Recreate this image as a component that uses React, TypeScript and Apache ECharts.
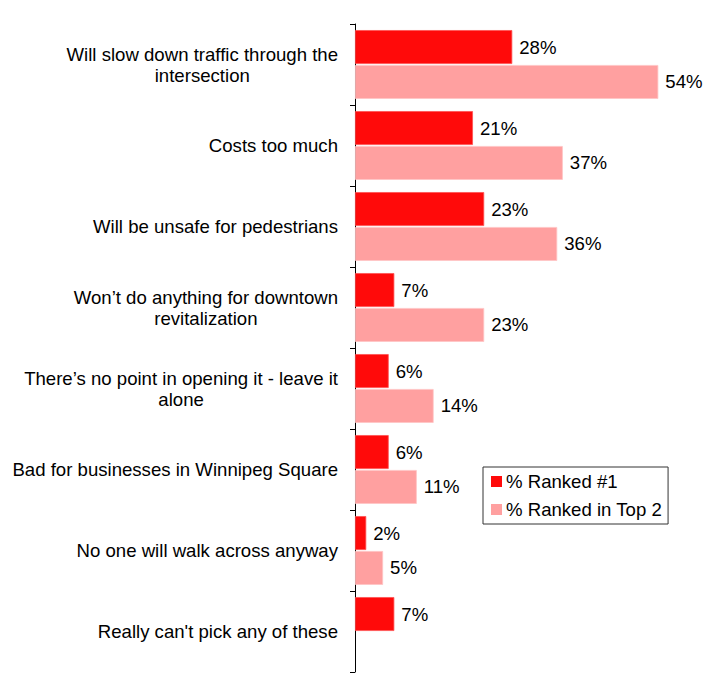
import React, { useEffect, useRef } from 'react';
import * as echarts from 'echarts';

const categories = [
  'Will slow down traffic through the\nintersection',
  'Costs too much',
  'Will be unsafe for pedestrians',
  'Won’t do anything for downtown\nrevitalization',
  'There’s no point in opening it - leave it\nalone',
  'Bad for businesses in Winnipeg Square',
  'No one will walk across anyway',
  "Really can't pick any of these",
];

const rankedFirst = [28, 21, 23, 7, 6, 6, 2, 7];
const rankedTopTwo: (number | null)[] = [54, 37, 36, 23, 14, 11, 5, null];

const seriesNames = ['% Ranked #1', '% Ranked in Top 2'];

const FONT = '"Liberation Sans", Arial, sans-serif';
const FONT_SIZE = 18.6;

const App: React.FC = () => {
  const chartRef = useRef<HTMLDivElement>(null);

  useEffect(() => {
    if (!chartRef.current) return;
    document.body.style.margin = '0';

    const chart = echarts.init(chartRef.current, undefined, { renderer: 'svg' });

    const valueLabel = {
      show: true,
      position: 'right' as const,
      distance: 7,
      color: '#000',
      fontFamily: FONT,
      fontSize: FONT_SIZE,
      formatter: (p: any) => (p.value == null ? '' : `${p.value}%`),
    };

    const option: echarts.EChartsOption = {
      animation: false,
      textStyle: { fontFamily: FONT },
      grid: { left: 355, top: 24, right: 26, bottom: 23, containLabel: false },
      legend: {
        orient: 'vertical',
        left: 483,
        top: 467,
        padding: [5, 6, 5, 8],
        itemGap: 9,
        itemWidth: 11,
        itemHeight: 11,
        icon: 'rect',
        borderColor: '#333',
        borderWidth: 1,
        borderRadius: 0,
        itemStyle: { borderWidth: 0 },
        textStyle: { color: '#000', fontSize: FONT_SIZE, fontFamily: FONT, lineHeight: 19, padding: [0, 0, 0, -1] },
        data: seriesNames,
      },
      xAxis: {
        type: 'value',
        min: 0,
        max: 60,
        show: false,
      },
      yAxis: {
        type: 'category',
        inverse: true,
        data: categories,
        axisLine: { show: true, lineStyle: { color: '#000', width: 1 } },
        axisTick: { show: true, length: 5, lineStyle: { color: '#000' } },
        axisLabel: {
          margin: 17,
          color: '#000',
          fontFamily: FONT,
          fontSize: FONT_SIZE,
          lineHeight: 21,
          formatter: (v: string) =>
            v
              .split('\n')
              .map((line) => `{c|${line}}`)
              .join('\n'),
          rich: {
            c: {
              align: 'center',
              color: '#000',
              fontFamily: FONT,
              fontSize: FONT_SIZE,
              lineHeight: 21,
            },
          },
        },
      },
      series: [
        {
          name: seriesNames[0],
          type: 'bar',
          data: rankedFirst,
          barGap: '3%',
          barCategoryGap: '15%',
          itemStyle: { color: '#FF0A0A', borderColor: '#FF5050', borderWidth: 0.8 },
          label: valueLabel,
        },
        {
          name: seriesNames[1],
          type: 'bar',
          data: rankedTopTwo,
          itemStyle: { color: '#FFA0A0', borderColor: '#FFC4C4', borderWidth: 0.8 },
          label: valueLabel,
        },
      ],
    };

    chart.setOption(option);

    const handleResize = () => {
      chart.resize();
    };
    window.addEventListener('resize', handleResize);

    return () => {
      window.removeEventListener('resize', handleResize);
      chart.dispose();
    };
  }, []);

  return <div ref={chartRef} style={{ width: '718px', height: '695px', background: '#fff' }} />;
};

export default App;
